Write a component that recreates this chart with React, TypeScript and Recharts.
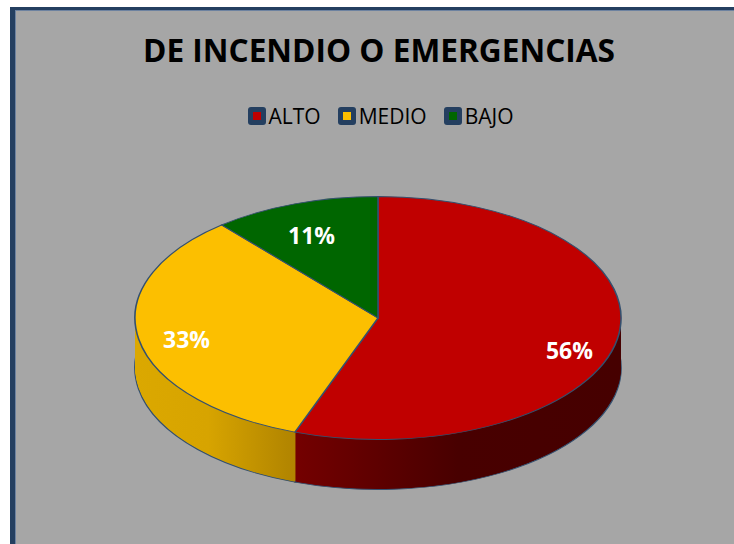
import React from 'react';
import { PieChart, Pie, Cell, Legend } from 'recharts';

const categories = ['ALTO', 'MEDIO', 'BAJO'];
const values = [5, 3, 1];
const topColors = ['#C00000', '#FCBF00', '#006600'];
const sideFills = ['url(#sideRed)', 'url(#sideYellow)', '#003d00'];
const title = 'DE INCENDIO O EMERGENCIAS';

const data = categories.map((name, i) => ({ name, value: values[i] }));

// geometry (layout, not data)
const CX = 378;
const CY = 318;
const RX = 243;
const TILT = 0.5; // vertical squash of the pie
const DEPTH = 50; // px of the side wall in the final picture
const LAYER_STEP = 1; // px per layer in final picture
const layers: number[] = [];
for (let d = DEPTH; d >= LAYER_STEP; d -= LAYER_STEP) layers.push(d);

const OUTLINE = '#34506f';
const RAD = Math.PI / 180;

const renderLabel = (props: any) => {
  const { cx, cy, midAngle, outerRadius, percent } = props;
  const k = 0.8;
  const c = Math.cos(-midAngle * RAD);
  const s = Math.sin(-midAngle * RAD);
  const x = cx + outerRadius * k * c;
  const y = cy + outerRadius * TILT * k * s + 10 + 5.5 * c;
  return (
    <text
      x={x}
      y={y}
      fill="#ffffff"
      textAnchor="middle"
      dominantBaseline="central"
      fontFamily="'Open Sans', sans-serif"
      fontWeight={700}
      fontSize={23}
    >
      {`${Math.round(percent * 100)}%`}
    </text>
  );
};

const LegendContent = () => (
  <div
    style={{
      display: 'flex',
      justifyContent: 'center',
      alignItems: 'center',
      fontFamily: "'Open Sans', sans-serif",
      fontSize: 21,
      color: '#000',
      lineHeight: '26px',
    }}
  >
    {categories.map((c, i) => (
      <div key={c} style={{ display: 'flex', alignItems: 'center', marginRight: i < categories.length - 1 ? 17 : 0 }}>
        <span
          style={{
            width: 18,
            height: 18,
            borderRadius: 3,
            background: '#243f60',
            display: 'flex',
            alignItems: 'center',
            justifyContent: 'center',
          }}
        >
          <span style={{ width: 8, height: 8, background: topColors[i], display: 'block' }} />
        </span>
        <span style={{ marginLeft: 3 }}>{c}</span>
      </div>
    ))}
  </div>
);

export default function App() {
  const H = 544;
  return (
    <div
      style={{
        position: 'absolute',
        left: 0,
        top: 0,
        width: 734,
        height: H,
        background: '#ffffff',
        overflow: 'hidden',
      }}
    >
      <div
        style={{
          position: 'absolute',
          left: 10,
          top: 7,
          width: 760,
          height: 580,
          background: '#a6a6a6',
          borderLeft: '5px solid #243f60',
          borderTop: '3px solid #243f60',
          boxShadow: 'inset 1px 1px 0 #6d82a0',
        }}
      />
      <svg width={734} height={90} style={{ position: 'absolute', left: 0, top: 0 }}>
        <text
          x={379}
          y={62}
          textAnchor="middle"
          textLength={472}
          lengthAdjust="spacingAndGlyphs"
          fontFamily="'Open Sans', sans-serif"
          fontWeight={700}
          fontSize={32}
          fill="#000"
        >
          {title}
        </text>
      </svg>

      {/* 3D body, drawn circular then squashed vertically */}
      <div style={{ position: 'absolute', left: 0, top: 0, transform: `scaleY(${TILT})`, transformOrigin: '0 0' }}>
        <PieChart width={734} height={H / TILT} margin={{ top: 0, right: 0, bottom: 0, left: 0 }}>
          <defs>
            <linearGradient id="sideRed" x1="0" y1="0" x2="1" y2="0">
              <stop offset="0" stopColor="#740000" />
              <stop offset="0.5" stopColor="#480000" />
              <stop offset="1" stopColor="#460000" />
            </linearGradient>
            <linearGradient id="sideYellow" x1="0" y1="0" x2="1" y2="0">
              <stop offset="0" stopColor="#dba800" />
              <stop offset="0.3" stopColor="#d7a400" />
              <stop offset="0.63" stopColor="#b38600" />
              <stop offset="1" stopColor="#a07800" />
            </linearGradient>
          </defs>
          {layers.map((d, li) => (
            <Pie
              key={`layer-${d}`}
              data={data}
              dataKey="value"
              nameKey="name"
              cx={CX}
              cy={(CY + d) / TILT}
              outerRadius={RX}
              startAngle={90}
              endAngle={-270}
              isAnimationActive={false}
              stroke={li === 0 ? OUTLINE : 'none'}
              strokeWidth={li === 0 ? 1.6 : 0}
              label={false}
              labelLine={false}
              legendType="none"
            >
              {data.map((e, i) => (
                <Cell key={e.name} fill={sideFills[i]} />
              ))}
            </Pie>
          ))}
          <Pie
            data={data}
            dataKey="value"
            nameKey="name"
            cx={CX}
            cy={CY / TILT}
            outerRadius={RX}
            startAngle={90}
            endAngle={-270}
            isAnimationActive={false}
            stroke={OUTLINE}
            strokeWidth={1.6}
            label={false}
            labelLine={false}
            legendType="none"
          >
            {data.map((e, i) => (
              <Cell key={e.name} fill={topColors[i]} />
            ))}
          </Pie>
        </PieChart>
      </div>

      {/* labels and legend, unsquashed */}
      <div style={{ position: 'absolute', left: 0, top: 0 }}>
        <PieChart width={734} height={H} margin={{ top: 0, right: 0, bottom: 0, left: 0 }}>
          <Pie
            data={data}
            dataKey="value"
            nameKey="name"
            cx={CX}
            cy={CY}
            outerRadius={RX}
            startAngle={90}
            endAngle={-270}
            isAnimationActive={false}
            fillOpacity={0}
            stroke="none"
            label={renderLabel}
            labelLine={false}
          >
            {data.map((e, i) => (
              <Cell key={e.name} fill={topColors[i]} />
            ))}
          </Pie>
          <Legend
            content={<LegendContent />}
            wrapperStyle={{ position: 'absolute', top: 103, left: 0, width: 761, height: 26 }}
          />
        </PieChart>
      </div>
    </div>
  );
}
